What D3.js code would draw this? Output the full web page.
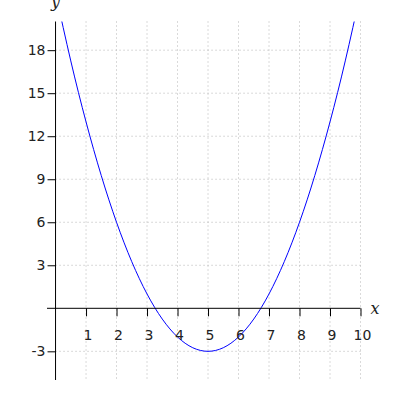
<!DOCTYPE html>
<html>
<head>
<meta charset="utf-8">
<script src="https://cdn.jsdelivr.net/npm/d3@7"></script>
<style>
  body { margin: 0; background: #fff; }
  svg { display: block; }
</style>
</head>
<body>
<div id="chart"></div>
<script>
// points
const xValues = [0, 0.5, 1, 1.5, 2, 2.5, 3, 3.5, 4, 4.5, 5, 5.5, 6, 6.5, 7, 7.5, 8, 8.5, 9, 9.5, 10];
const yValues = [22, 17.25, 13, 9.25, 6, 3.25, 1, -0.75, -2, -2.75, -3, -2.75, -2, -0.75, 1, 3.25, 6, 9.25, 13, 17.25, 22];
const xTicks = [1, 2, 3, 4, 5, 6, 7, 8, 9, 10];
const yTicks = [-3, 3, 6, 9, 12, 15, 18];

const width = 400;
const height = 400;

const svg = d3.select('#chart').append('svg')
  .attr('width', width)
  .attr('height', height);

const x = d3.scaleLinear().domain([-0.28, 10]).range([47, 360.5]);
const y = d3.scaleLinear().domain([-5, 20]).range([380, 21.5]);

const gridColor = '#b4b4b4';

// grid
svg.append('g')
  .selectAll('line')
  .data(xTicks)
  .enter().append('line')
  .attr('x1', d => x(d)).attr('x2', d => x(d))
  .attr('y1', y(20)).attr('y2', y(-5))
  .attr('stroke', gridColor)
  .attr('stroke-dasharray', '1,3');

svg.append('g')
  .selectAll('line')
  .data(yTicks)
  .enter().append('line')
  .attr('x1', x(0)).attr('x2', x(10))
  .attr('y1', d => y(d)).attr('y2', d => y(d))
  .attr('stroke', gridColor)
  .attr('stroke-dasharray', '1,3');

// curve
svg.append('clipPath').attr('id', 'plotClip')
  .append('rect')
  .attr('x', x(0)).attr('y', y(20))
  .attr('width', x(10) - x(0)).attr('height', y(-5) - y(20));

const line = d3.line()
  .x((d, i) => x(xValues[i]))
  .y(d => y(d))
  .curve(d3.curveNatural);

svg.append('path')
  .datum(yValues)
  .attr('d', line)
  .attr('fill', 'none')
  .attr('stroke', '#0000ff')
  .attr('stroke-width', 1)
  .attr('clip-path', 'url(#plotClip)');

// x axis
const xAxis = d3.axisBottom(x)
  .tickValues(xTicks)
  .tickFormat(d => String(d))
  .tickSize(8)
  .tickPadding(14);

const gx = svg.append('g')
  .attr('transform', `translate(0,${y(0)})`)
  .call(xAxis);
gx.select('.domain').attr('d', `M${x(-0.28)},0H${x(10)}`);

// y axis
const yAxis = d3.axisLeft(y)
  .tickValues(yTicks)
  .tickFormat(d => String(d))
  .tickSize(8)
  .tickPadding(2);

const gy = svg.append('g')
  .attr('transform', `translate(${x(0)},0)`)
  .call(yAxis);
gy.select('.domain').attr('d', `M0,${y(20)}V${y(-5)}`);

[gx, gy].forEach((g) => {
  g.select('.domain').attr('stroke', '#000').attr('stroke-width', 1);
  g.selectAll('.tick line').attr('stroke', '#000');
  g.selectAll('.tick text')
    .attr('fill', '#222')
    .style('font-family', 'DejaVu Sans')
    .style('font-size', '14px');
});
gx.selectAll('.tick text').attr('dx', '0.1em');

// axis names
svg.append('text')
  .attr('x', x(10) + 10)
  .attr('y', y(0) + 6)
  .style('font-family', 'DejaVu Serif')
  .style('font-style', 'italic')
  .style('font-size', '16px')
  .attr('fill', '#222')
  .text('x');

svg.append('text')
  .attr('x', x(0))
  .attr('y', 7)
  .attr('text-anchor', 'middle')
  .style('font-family', 'DejaVu Serif')
  .style('font-style', 'italic')
  .style('font-size', '16px')
  .attr('fill', '#222')
  .text('y');
</script>
</body>
</html>
